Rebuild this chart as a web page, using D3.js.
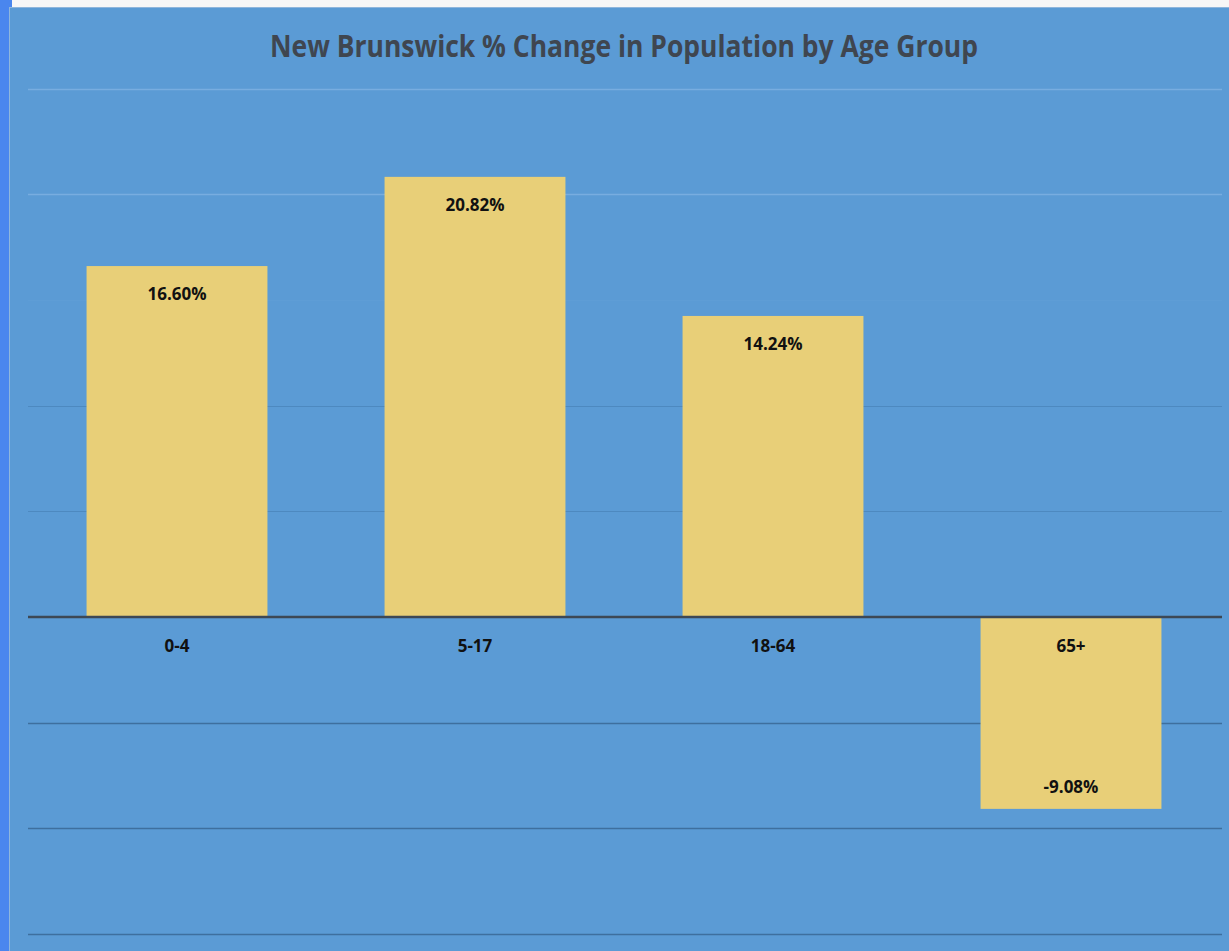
<!DOCTYPE html>
<html><head><meta charset="utf-8">
<script src="https://cdn.jsdelivr.net/npm/d3@7"></script>
<style>html,body{margin:0;padding:0;background:#f7f7f7;overflow:hidden}</style>
</head><body><div id="c"></div>
<script>
const categories = ["0-4", "5-17", "18-64", "65+"];
const values = [16.60, 20.82, 14.24, -9.08];
const valueLabels = ["16.60%", "20.82%", "14.24%", "-9.08%"];
const yTicks = [-15, -10, -5, 0, 5, 10, 15, 20, 25];
const title = "New Brunswick % Change in Population by Age Group";

const W = 1229, H = 951;
const svg = d3.select("#c").append("svg").attr("width", W).attr("height", H);

// frame
svg.append("rect").attr("x",0).attr("y",0).attr("width",W).attr("height",H).attr("fill","#f7f7f7");
svg.append("rect").attr("x",0).attr("y",0).attr("width",12).attr("height",H).attr("fill","#4a86ee");
svg.append("rect").attr("x",9).attr("y",7).attr("width",W-9).attr("height",H-7).attr("fill","#5b9bd5");
svg.append("line").attr("x1",9).attr("x2",W).attr("y1",7.5).attr("y2",7.5).attr("stroke","#8fb6dc").attr("stroke-width",1);
svg.append("line").attr("x1",9.5).attr("x2",9.5).attr("y1",7).attr("y2",H).attr("stroke","#8fb6dc").attr("stroke-width",1);

const x = d3.scaleBand().domain(categories).range([28, 1220]).paddingInner(0.393).paddingOuter(0.1965);
const y = d3.scaleLinear().domain([-15, 25]).range([934, 88.5]);

const gridColor = v => v >= 20 ? "#78ade0" : v === 15 ? "#5e9dd6" : v > 0 ? "#4d89c0" : "#3e6f9e";
svg.append("g").selectAll("line").data(yTicks.filter(v => v !== 0)).join("line")
  .attr("x1", 28).attr("x2", 1222)
  .attr("y1", d => Math.round(y(d)) + 0.5).attr("y2", d => Math.round(y(d)) + 0.5)
  .attr("stroke", gridColor).attr("stroke-width", d => d > 0 && d < 20 ? 1 : 1.5);

// bars
svg.append("g").selectAll("rect").data(values).join("rect")
  .attr("x", (d,i) => x(categories[i]))
  .attr("width", x.bandwidth())
  .attr("y", d => y(Math.max(0, d)))
  .attr("height", d => Math.abs(y(d) - y(0)))
  .attr("fill", "#e8cf78");

// zero axis
svg.append("line").attr("x1", 28).attr("x2", 1222).attr("y1", y(0)).attr("y2", y(0))
  .attr("stroke", "#3d4855").attr("stroke-width", 2.5);

// category labels
svg.append("g").selectAll("text").data(categories).join("text")
  .attr("x", d => x(d) + x.bandwidth()/2)
  .attr("y", y(0) + 35)
  .attr("text-anchor", "middle")
  .attr("font-family", "'Open Sans', sans-serif").attr("font-weight", 700).attr("font-size", 17)
  .attr("fill", "#111").text(d => d);

// value labels
svg.append("g").selectAll("text").data(values).join("text")
  .attr("x", (d,i) => x(categories[i]) + x.bandwidth()/2)
  .attr("y", d => d >= 0 ? y(d) + 34 : y(d) - 16)
  .attr("text-anchor", "middle")
  .attr("font-family", "'Open Sans', sans-serif").attr("font-weight", 700).attr("font-size", 17)
  .attr("fill", "#111").text((d,i) => valueLabels[i]);

// title
svg.append("text").attr("x", 624).attr("y", 57).attr("text-anchor", "middle")
  .attr("font-family", "'Open Sans', sans-serif").attr("font-weight", 700).attr("font-size", 30)
  .attr("textLength", 708).attr("lengthAdjust", "spacingAndGlyphs")
  .attr("fill", "#3f4650").text(title);
</script></body></html>
